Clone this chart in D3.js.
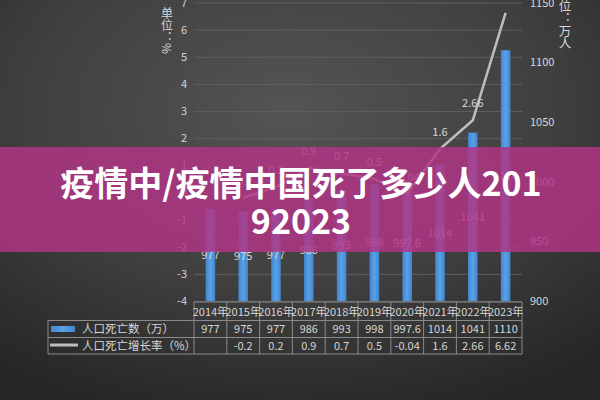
<!DOCTYPE html>
<html><head><meta charset="utf-8">
<script src="https://cdn.jsdelivr.net/npm/d3@7"></script>
<style>
html,body{margin:0;padding:0;background:#333;}
svg{display:block;}
text{font-family:"Noto Sans CJK SC","Noto Sans",sans-serif;}
</style></head>
<body>
<svg id="c" width="600" height="400"></svg>
<script>
const years = ["2014年","2015年","2016年","2017年","2018年","2019年","2020年","2021年","2022年","2023年"];
const deaths = [977, 975, 977, 986, 993, 998, 997.6, 1014, 1041, 1110];
const growth = [null, -0.2, 0.2, 0.9, 0.7, 0.5, -0.04, 1.6, 2.66, 6.62];
const leftTicks = [-4,-3,-2,-1,0,1,2,3,4,5,6,7];
const rightTicks = [900,950,1000,1050,1100,1150];
const seriesNames = ["人口死亡数（万）","人口死亡增长率（%）"];
const leftTitle = "单位：%";
const rightTitle = "单位：万人";
const titleLines = ["疫情中/疫情中国死了多少人201","92023"];

const svg = d3.select("#c");
const defs = svg.append("defs");
const rg = defs.append("radialGradient").attr("id","bg").attr("cx","48%").attr("cy","28%").attr("r","78%");
rg.append("stop").attr("offset","0%").attr("stop-color","#545454");
rg.append("stop").attr("offset","55%").attr("stop-color","#404040");
rg.append("stop").attr("offset","100%").attr("stop-color","#272727");
svg.append("rect").attr("width",600).attr("height",400).attr("fill","url(#bg)");

const bargrad = defs.append("linearGradient").attr("id","bar").attr("x1","0").attr("x2","1");
bargrad.append("stop").attr("offset","0%").attr("stop-color","#3f86cf");
bargrad.append("stop").attr("offset","50%").attr("stop-color","#5aa2e6");
bargrad.append("stop").attr("offset","100%").attr("stop-color","#3f86cf");

const x = d3.scaleBand().domain(years).range([194, 522]);
const yL = d3.scaleLinear().domain([-4, 7]).range([301, 2.5]);
const yR = d3.scaleLinear().domain([900, 1150]).range([301, 2.5]);
const txt = "#d6d6d6";
const plain = d => String(d);

// left axis with gridlines
const gL = svg.append("g").attr("transform","translate(194,0)")
  .call(d3.axisLeft(yL).tickValues(leftTicks).tickSize(-(522-194)).tickPadding(7).tickFormat(plain));
gL.select(".domain").remove();
gL.selectAll(".tick line").attr("stroke","#5e5e5e").attr("stroke-width",1);
gL.selectAll(".tick text").attr("fill",txt).attr("font-size",11).style("font-family","'Noto Sans CJK SC',sans-serif");

// right axis
const gR = svg.append("g").attr("transform","translate(522,0)")
  .call(d3.axisRight(yR).tickValues(rightTicks).tickSize(0).tickPadding(8).tickFormat(plain));
gR.select(".domain").remove();
gR.selectAll(".tick text").attr("fill",txt).attr("font-size",11).style("font-family","'Noto Sans CJK SC',sans-serif");

// titles (vertical)
svg.append("text").attr("x",167).attr("y",7).text(leftTitle)
  .attr("fill",txt).attr("font-size",12).style("writing-mode","vertical-rl");
svg.append("text").attr("x",565).attr("y",-13).text(rightTitle)
  .attr("fill",txt).attr("font-size",12.5).style("writing-mode","vertical-rl");

// bars
const bw = x.bandwidth()*0.29;
svg.append("g").selectAll("rect").data(deaths).join("rect")
  .attr("x",(d,i)=>x(years[i])+x.bandwidth()/2-bw/2)
  .attr("width",bw)
  .attr("y",d=>yR(d))
  .attr("height",d=>yR(900)-yR(d))
  .attr("fill","url(#bar)");
svg.append("g").selectAll("text").data(deaths).join("text")
  .attr("x",(d,i)=>x(years[i])+x.bandwidth()/2)
  .attr("y",d=>(yR(d)+yR(900))/2+4)
  .attr("text-anchor","middle").attr("fill",txt).attr("font-size",11)
  .text(d=>d);

// line
const pts = growth.map((v,i)=>({v, i})).filter(d=>d.v!==null);
const line = d3.line().x(d=>x(years[d.i])+x.bandwidth()/2).y(d=>yL(d.v));
svg.append("path").datum(pts).attr("d",line).attr("fill","none")
  .attr("stroke","#bdbdbd").attr("stroke-width",2.5).attr("stroke-linejoin","round");
svg.append("g").selectAll("text").data(pts).join("text")
  .attr("x",d=>x(years[d.i])+x.bandwidth()/2)
  .attr("y",d=>yL(d.v)-13)
  .attr("text-anchor","middle").attr("fill",txt).attr("font-size",11)
  .text(d=>d.v);

// table
const tl = svg.append("g").attr("stroke","#8a8a8a").attr("stroke-width",1).attr("fill","none");
const rowY = [302, 320.5, 337.5, 354];
tl.append("line").attr("x1",194).attr("x2",522).attr("y1",rowY[0]).attr("y2",rowY[0]);
[1,2,3].forEach(k=>tl.append("line").attr("x1",48).attr("x2",522).attr("y1",rowY[k]).attr("y2",rowY[k]));
tl.append("line").attr("x1",48).attr("x2",48).attr("y1",rowY[1]).attr("y2",rowY[3]);
years.forEach((y,i)=>tl.append("line").attr("x1",x(y)).attr("x2",x(y)).attr("y1",rowY[0]).attr("y2",rowY[3]));
tl.append("line").attr("x1",522).attr("x2",522).attr("y1",rowY[0]).attr("y2",rowY[3]);

const cx = y => x(y)+x.bandwidth()/2;
svg.append("g").selectAll("text").data(years).join("text")
  .attr("x",d=>cx(d)).attr("y",316).attr("text-anchor","middle").attr("fill",txt).attr("font-size",11).text(d=>d);
svg.append("g").selectAll("text").data(deaths).join("text")
  .attr("x",(d,i)=>cx(years[i])).attr("y",333).attr("text-anchor","middle").attr("fill",txt).attr("font-size",11).text(d=>d);
svg.append("g").selectAll("text").data(growth).join("text")
  .attr("x",(d,i)=>cx(years[i])).attr("y",349.5).attr("text-anchor","middle").attr("fill",txt).attr("font-size",11).text(d=>d===null?"":d);

// legend
svg.append("rect").attr("x",51).attr("y",326).attr("width",24).attr("height",6).attr("fill","url(#bar)");
svg.append("line").attr("x1",50).attr("x2",78).attr("y1",345).attr("y2",345).attr("stroke","#bdbdbd").attr("stroke-width",3);
svg.append("text").attr("x",82).attr("y",333).attr("fill",txt).attr("font-size",11.5).text(seriesNames[0]);
svg.append("text").attr("x",82).attr("y",349.5).attr("fill",txt).attr("font-size",11.5).text(seriesNames[1]);

// banner overlay
svg.append("rect").attr("x",0).attr("y",147).attr("width",600).attr("height",105).attr("fill","rgba(178,52,134,0.84)");
svg.append("g").selectAll("text").data(titleLines).join("text")
  .attr("x",301).attr("y",(d,i)=>196+i*38).attr("text-anchor","middle")
  .attr("fill","#ffffff").attr("font-size",34).attr("font-weight",700).text(d=>d);
</script>
</body></html>
